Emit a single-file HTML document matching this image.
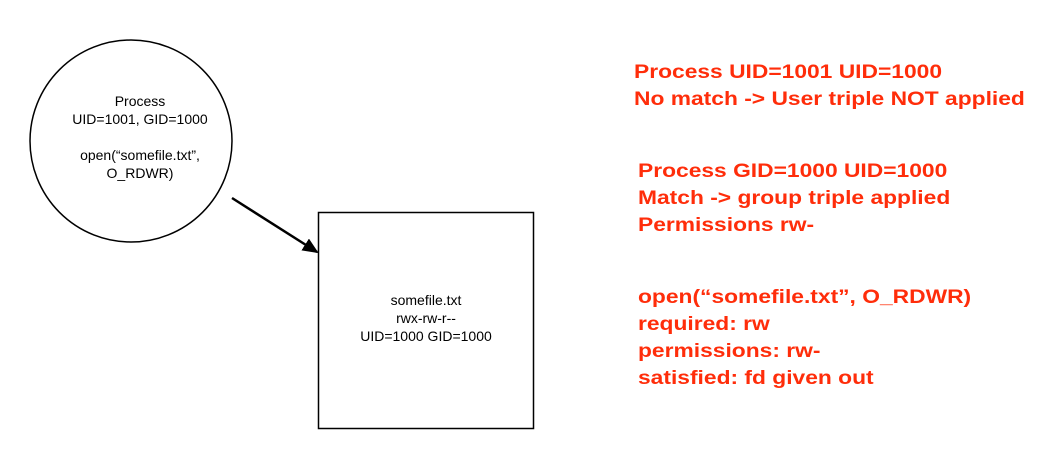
<!DOCTYPE html>
<html><head><style>
body{margin:0;width:1054px;height:459px;background:#fff;overflow:hidden;position:relative;font-family:"Liberation Sans",Helvetica,sans-serif}
.r{position:absolute;color:#ff2d0a;font-size:19px;line-height:27px;font-family:"Liberation Sans",sans-serif;font-weight:bold;white-space:nowrap;transform:scaleX(1.2);transform-origin:0 0}
</style></head><body>
<svg width="1054" height="459" style="position:absolute;left:0;top:0">
<defs><marker id="a" markerWidth="16" markerHeight="14" refX="14" refY="7" orient="auto" markerUnits="userSpaceOnUse"><path d="M0,0 L16,7 L0,14 Z" fill="#000"/></marker></defs>
<circle cx="131" cy="141" r="101" fill="#fff" stroke="#000" stroke-width="1.5"/>
<rect x="318.5" y="212.5" width="215" height="216" fill="#fff" stroke="#000" stroke-width="1.5"/>
<line x1="232" y1="198" x2="317" y2="252" stroke="#000" stroke-width="2.5" marker-end="url(#a)"/>
<g font-family="Liberation Sans,Helvetica,sans-serif" font-size="14" text-anchor="middle" fill="#000">
<text x="140" y="106">Process</text>
<text x="140" y="124">UID=1001, GID=1000</text>
<text x="140" y="160">open(“somefile.txt”,</text>
<text x="140" y="178">O_RDWR)</text>
<text x="426" y="305">somefile.txt</text>
<text x="426" y="323">rwx-rw-r--</text>
<text x="426" y="341">UID=1000 GID=1000</text>
</g>
</svg>
<div class="r" style="left:634px;top:59px">Process UID=1001 UID=1000<br>No match -&gt; User triple NOT applied</div>
<div class="r" style="left:638px;top:158px">Process GID=1000 UID=1000<br>Match -&gt; group triple applied<br>Permissions rw-</div>
<div class="r" style="left:638px;top:284px">open(“somefile.txt”, O_RDWR)<br>required: rw<br>permissions: rw-<br>satisfied: fd given out</div>
</body></html>
